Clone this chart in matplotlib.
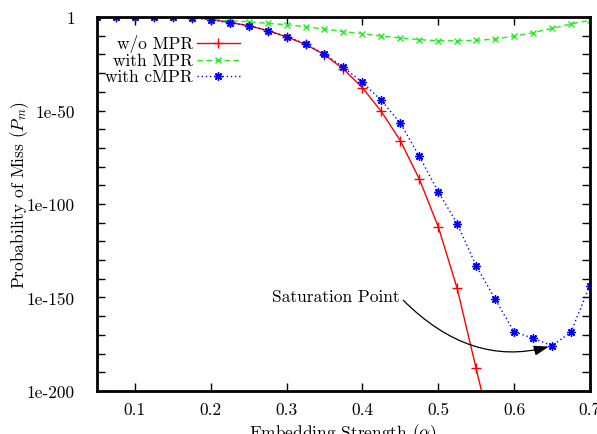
import matplotlib
matplotlib.use("Agg")
import matplotlib.pyplot as plt
from matplotlib.lines import Line2D
from matplotlib.ticker import FixedLocator, NullFormatter
import numpy as np

plt.rcParams["font.family"] = "cmr10"
plt.rcParams["mathtext.fontset"] = "cm"
plt.rcParams["axes.unicode_minus"] = False

alpha = [0.05, 0.075, 0.1, 0.125, 0.15, 0.175, 0.2, 0.225, 0.25, 0.275,
         0.3, 0.325, 0.35, 0.375, 0.4, 0.425, 0.45, 0.475, 0.5, 0.525,
         0.55, 0.575, 0.6, 0.625, 0.65, 0.675, 0.7]

# log10 of probability of miss
log_wo_mpr = [0, 0, 0, 0, 0, -0.3, -1.2, -2.9, -4.6, -7.3,
              -10.6, -14.6, -20.2, -27.8, -37.8, -50.5, -66.1, -86.6, -112.1, -145.1,
              -187.9, -230]
log_with_mpr = [0, 0, 0, 0, 0, -0.5, -1.2, -2.1, -2.5, -3.4,
                -4.1, -5.2, -6.4, -7.8, -8.9, -10.2, -11.2, -12.1, -12.7, -12.7,
                -12.5, -11.8, -10.2, -8.4, -6.1, -3.7, -1.8]
log_with_cmpr = [0, 0, 0, 0, 0, -0.3, -1.4, -3.2, -4.6, -7.3,
                 -10.5, -14.4, -19.8, -26.9, -34.9, -44.6, -56.7, -74.5, -93.4, -110.5,
                 -133.0, -150.8, -168.3, -171.8, -175.8, -168.6, -143.7]

labels = ["w/o MPR", "with MPR", "with cMPR"]
x_ticks = [0.1, 0.2, 0.3, 0.4, 0.5, 0.6, 0.7]
y_ticks = [1e0, 1e-50, 1e-100, 1e-150, 1e-200]
y_ticklabels = ["1", "1e-50", "1e-100", "1e-150", "1e-200"]

FS = 12.5

fig = plt.figure(figsize=(5.97, 4.35), dpi=100)
ax = fig.add_axes([0.1625, 0.0989, 0.8255, 0.8597])

series = [
    (10.0 ** np.array(log_wo_mpr), dict(color="#ff0000", ls="-", marker="+", ms=6.5, mew=1.0)),
    (10.0 ** np.array(log_with_mpr), dict(color="#22ee22", ls=(0, (4, 2.5)), marker="x", ms=5, mew=1.0)),
    (10.0 ** np.array(log_with_cmpr), dict(color="#0000ff", ls=(0, (1, 2)), marker=(8, 2, 0), ms=6, mew=1.0)),
]

for (p, style), label in zip(series, labels):
    ax.plot(alpha[:len(p)], p, lw=1.0, label=label, **style)

ax.set_yscale("log")
ax.set_xlim(0.05, 0.7)
ax.set_ylim(1e-200, 1)
ax.yaxis.set_major_locator(FixedLocator(y_ticks))
ax.set_yticklabels(y_ticklabels)
ax.yaxis.set_minor_locator(FixedLocator([10.0 ** -k for k in range(0, 201, 10)]))
ax.yaxis.set_minor_formatter(NullFormatter())
ax.set_xticks(x_ticks)
ax.set_xticklabels([f"{v:.1f}" for v in x_ticks])

ax.tick_params(which="both", direction="in", top=True, right=True, labelsize=FS,
               width=1.0, colors="black")
ax.tick_params(which="major", length=6)
ax.tick_params(which="minor", length=6)
ax.tick_params(axis="x", which="major", pad=8)
ax.tick_params(axis="y", which="major", pad=16)
for s in ax.spines.values():
    s.set_linewidth(2.0)

ax.set_xlabel(r"Embedding Strength ($\alpha$)", fontsize=FS, labelpad=3)
ax.set_ylabel(r"Probability of Miss ($P_m$)", fontsize=FS, va="center")
ax.yaxis.set_label_coords(-0.156, 0.527)

# annotation
ax.text(0.4495, 10.0 ** -149.5, "Saturation Point", ha="right", va="center", fontsize=FS)
ax.annotate("", xy=(0.646, 10.0 ** -176.3), xytext=(0.454, 10.0 ** -151.5),
            arrowprops=dict(arrowstyle="-|>,head_length=0.9,head_width=0.3", color="black",
                            lw=0.9, connectionstyle="angle3,angleA=-45,angleB=15",
                            shrinkA=0, shrinkB=0))

# gnuplot style key: right-aligned labels, sample to the right
rows = [0.930, 0.885, 0.842]
for (p, style), label, yk in zip(series, labels, rows):
    ax.text(0.195, yk, label, transform=ax.transAxes, ha="right", va="center", fontsize=FS)
    ax.add_line(Line2D([0.203, 0.290], [yk, yk], transform=ax.transAxes, lw=1.0,
                       color=style["color"], ls=style["ls"]))
    ax.add_line(Line2D([0.245], [yk], transform=ax.transAxes, lw=0, mew=style["mew"],
                       color=style["color"], marker=style["marker"], ms=style["ms"]))

fig.savefig("out.png", dpi=100)
